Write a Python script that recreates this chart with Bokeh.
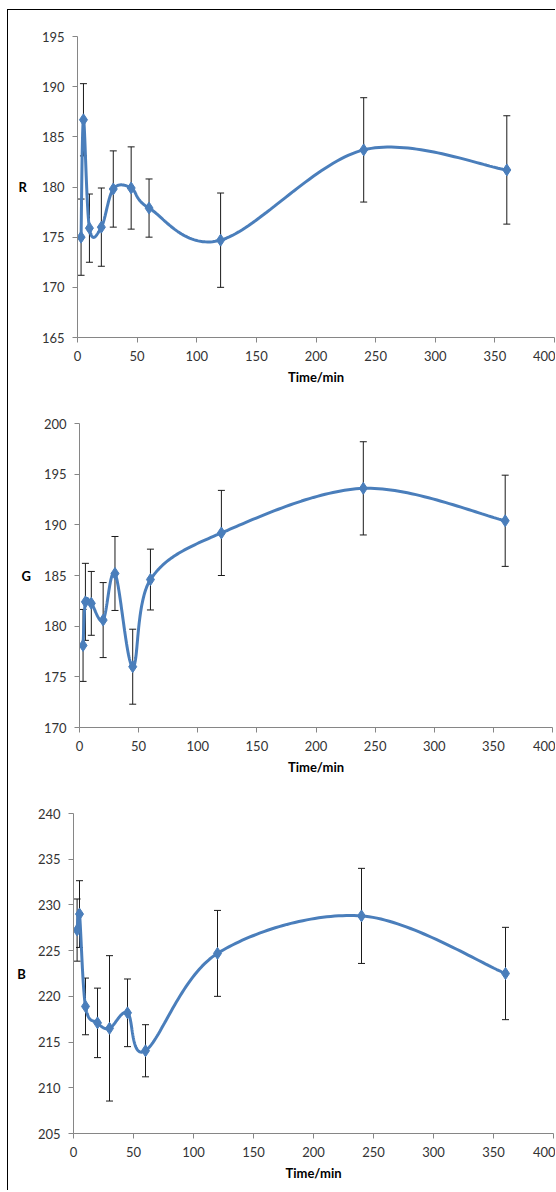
import numpy as np
from bokeh.plotting import figure
from bokeh.models import Range1d, FixedTicker, Whisker, ColumnDataSource, TeeHead
from bokeh.embed import file_html
from bokeh.resources import INLINE

# ---- data ----
time_min = [3, 5, 10, 20, 30, 45, 60, 120, 240, 360]

r_mean = [175.0, 186.7, 175.9, 176.0, 179.8, 179.9, 177.9, 174.7, 183.7, 181.7]
r_err = [3.8, 3.6, 3.4, 3.9, 3.8, 4.1, 2.9, 4.7, 5.2, 5.4]

g_mean = [178.1, 182.4, 182.25, 180.6, 185.2, 176.0, 184.6, 189.2, 193.6, 190.4]
g_err = [3.55, 3.8, 3.15, 3.7, 3.65, 3.7, 3.0, 4.2, 4.6, 4.5]

b_mean = [227.25, 229.0, 218.9, 217.1, 216.5, 218.2, 214.05, 224.7, 228.8, 222.5]
b_err = [3.4, 3.65, 3.1, 3.8, 7.95, 3.7, 2.85, 4.7, 5.2, 5.05]

x_ticks = [0, 50, 100, 150, 200, 250, 300, 350, 400]
r_ticks = [165, 170, 175, 180, 185, 190, 195]
g_ticks = [170, 175, 180, 185, 190, 195, 200]
b_ticks = [205, 210, 215, 220, 225, 230, 235, 240]

BLUE = "#4A7EBB"
AXIS = "#868686"
FONT = "Lato"


def smooth(xs, ys, n=40):
    """Excel-like smoothed line: Catmull-Rom segments as cubic Beziers."""
    xs = np.asarray(xs, float)
    ys = np.asarray(ys, float)
    P = np.column_stack([xs, ys])
    out = [P[0]]
    m = len(P)
    for i in range(m - 1):
        p0 = P[i - 1] if i > 0 else P[i]
        p1 = P[i]
        p2 = P[i + 1]
        p3 = P[i + 2] if i + 2 < m else P[i + 1]
        c1 = p1 + (p2 - p0) / 6.0
        c2 = p2 - (p3 - p1) / 6.0
        t = np.linspace(0, 1, n)[1:, None]
        seg = ((1 - t) ** 3) * p1 + 3 * ((1 - t) ** 2) * t * c1 + 3 * (1 - t) * t ** 2 * c2 + t ** 3 * p2
        out.extend(seg)
    out = np.array(out)
    return out[:, 0], out[:, 1]


def make_panel(label, mean, err, yr, yticks, height, bl, br, bt, bb, lab_standoff, styles):
    p = figure(width=548, height=height, x_range=Range1d(0, 400), y_range=Range1d(*yr),
               output_backend="svg", toolbar_location=None, title=None,
               min_border_left=bl, min_border_right=br, min_border_top=bt, min_border_bottom=bb,
               styles=styles)
    p.outline_line_color = None
    p.grid.visible = False
    p.background_fill_color = "white"
    p.border_fill_color = "white"

    sx, sy = smooth(time_min, mean)
    p.line(sx, sy, line_color=BLUE, line_width=3)

    src = ColumnDataSource(dict(
        x=time_min, y=mean,
        upper=[m + e for m, e in zip(mean, err)],
        lower=[m - e for m, e in zip(mean, err)],
    ))
    p.scatter("x", "y", source=src, marker="diamond", size=12, fill_color=BLUE, line_color=BLUE)

    w = Whisker(base="x", upper="upper", lower="lower", source=src,
                line_color="#1a1a1a", line_width=1,
                upper_head=TeeHead(size=7, line_color="#1a1a1a", line_width=1),
                lower_head=TeeHead(size=7, line_color="#1a1a1a", line_width=1))
    p.add_layout(w)

    for ax in (p.xaxis[0], p.yaxis[0]):
        ax.axis_line_color = AXIS
        ax.major_tick_line_color = AXIS
        ax.minor_tick_line_color = None
        ax.major_tick_in = 0
        ax.major_tick_out = 5
        ax.major_label_text_font = FONT
        ax.major_label_text_font_size = "13px"
        ax.major_label_text_color = "#333333"
        ax.axis_label_text_font = FONT
        ax.axis_label_text_font_style = "bold"
        ax.axis_label_text_font_size = "13px"
        ax.axis_label_text_color = "#000000"

    p.xaxis.ticker = FixedTicker(ticks=x_ticks)
    p.yaxis.ticker = FixedTicker(ticks=yticks)
    p.xaxis.axis_label = "Time/min"
    p.xaxis.major_label_standoff = 8
    p.xaxis.axis_label_standoff = 5
    p.yaxis.axis_label = label
    p.yaxis.axis_label_orientation = "horizontal"
    p.yaxis.major_label_standoff = 8
    p.yaxis.axis_label_standoff = lab_standoff
    return p


frame_first = {"margin-left": "7px", "margin-top": "9px",
               "border-top": "1px solid #000000", "border-left": "1px solid #000000"}
frame_rest = {"margin-left": "7px", "border-left": "1px solid #000000"}

p1 = make_panel("R", r_mean, r_err, (165, 195), r_ticks, 388, 69, 2, 26, 61, 12, frame_first)
p2 = make_panel("G", g_mean, g_err, (170, 200), g_ticks, 392, 71, 4, 26, 62, 10, frame_rest)
p3 = make_panel("B", b_mean, b_err, (205, 240), b_ticks, 401, 65, 3, 24, 57, 9, frame_rest)

open("out.html", "w").write(file_html([p1, p2, p3], INLINE))
